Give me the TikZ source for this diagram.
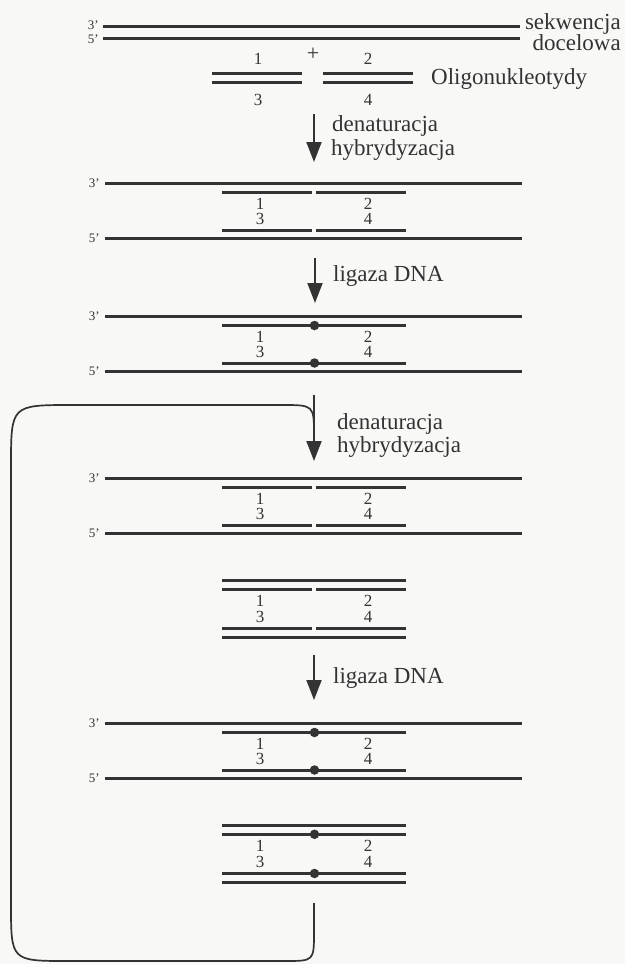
\documentclass[tikz,border=0pt]{standalone}
\usepackage{fontspec}
\setmainfont{Liberation Serif}
\usetikzlibrary{arrows.meta}
\definecolor{ink}{HTML}{333333}
\definecolor{paper}{HTML}{F8F8F7}
\tikzset{
  strand/.style={line width=3pt, draw=ink},
  knot/.style={circle, fill=ink, inner sep=0pt, minimum size=9.5pt},
  endlbl/.style={font=\fontsize{13}{13}\selectfont, text=ink, inner sep=0pt},
  numlbl/.style={font=\fontsize{17}{17}\selectfont, text=ink, inner sep=0pt,
    text height=11pt, text depth=0pt},
  txt/.style={font=\fontsize{23}{24}\selectfont, text=ink, inner sep=0pt},
  flow/.style={draw=ink, line width=1.9pt, -{Triangle[width=15pt,length=20pt]}},
  loopline/.style={draw=ink, line width=1.7pt},
}
% short strand pair: split (two oligos) or joined by a ligation point
\newcommand{\shortstrand}[3]{%
  \ifnum#3=1
    \draw[strand] (222,#2) -- (406,#2);
    \node[knot] (#1) at (314.5,#2) {};
  \else
    \draw[strand] (222,#2) -- (311.5,#2);
    \draw[strand] (316,#2) -- (406,#2);
    \coordinate (#1) at (314,#2);
  \fi}
% numbers of the four oligonucleotides
\newcommand{\oligonums}[3]{%
  \node[numlbl] (#1-n1) at (260,#2) {1};
  \node[numlbl] (#1-n2) at (368,#2) {2};
  \node[numlbl] (#1-n3) at (260,#3) {3};
  \node[numlbl] (#1-n4) at (368,#3) {4};}
% target strands with two oligonucleotides bound to each
\newcommand{\boundpair}[3]{%
  \draw[strand] (105,#2) -- (522,#2);
  \node[endlbl, anchor=east] (#1-e3) at (100,#2) {3’};
  \draw[strand] (105,#2+55.5) -- (522,#2+55.5);
  \node[endlbl, anchor=east] (#1-e5) at (100,#2+55.5) {5’};
  \shortstrand{#1-up}{#2+9.5}{#3}
  \shortstrand{#1-dn}{#2+47}{#3}
  \oligonums{#1}{#2+20.5}{#2+36}}
% free oligonucleotide duplexes
\newcommand{\freepair}[3]{%
  \draw[strand] (222,#2) -- (406,#2);
  \shortstrand{#1-up}{#2+8.6}{#3}
  \oligonums{#1}{#2+20.3}{#2+35.8}
  \shortstrand{#1-dn}{#2+47.8}{#3}
  \draw[strand] (222,#2+57) -- (406,#2+57);}

\begin{document}
\begin{tikzpicture}[x=1pt,y=-1pt]
  \fill[paper] (0,0) rectangle (625,964);
  \useasboundingbox (0,0) rectangle (625,964);

  % target sequence
  \draw[strand] (103,26) -- (520,26);
  \draw[strand] (103,38) -- (520,38);
  \node[endlbl, anchor=east] (t3) at (99,25) {3’};
  \node[endlbl, anchor=east] (t5) at (99,39) {5’};
  \node[txt, anchor=base east] (seq1) at (621,29) {sekwencja};
  \node[txt, anchor=base east] (seq2) at (621,50) {docelowa};

  % oligonucleotides
  \draw[strand] (212,73) -- (302,73);
  \draw[strand] (212,82.5) -- (302,82.5);
  \draw[strand] (323,73) -- (413,73);
  \draw[strand] (323,82.5) -- (413,82.5);
  \node[numlbl] (o1) at (258,59) {1};
  \node[numlbl, font=\fontsize{22}{22}\selectfont] (plus) at (313,55) {+};
  \node[numlbl] (o2) at (368,59) {2};
  \node[numlbl] (o3) at (258,100) {3};
  \node[numlbl] (o4) at (368,100) {4};
  \node[txt, anchor=base west] (oligo) at (431,84) {Oligonukleotydy};

  % step 1
  \coordinate (a1s) at (314,114);
  \coordinate (a1e) at (314,162);
  \draw[flow] (a1s) -- (a1e);
  \node[txt, anchor=base west] (d1) at (332,131) {denaturacja};
  \node[txt, anchor=base west] (h1) at (331,155) {hybrydyzacja};
  \boundpair{s2}{183}{0}

  % step 2
  \coordinate (a2s) at (315,258);
  \coordinate (a2e) at (315,303);
  \draw[flow] (a2s) -- (a2e);
  \node[txt, anchor=base west] (l1) at (333,281) {ligaza DNA};
  \boundpair{s3}{316}{1}

  % step 3 with the cycle return
  \coordinate (a3s) at (314,395);
  \coordinate (a3e) at (314,461);
  \draw[flow] (a3s) -- (a3e);
  \node[txt, anchor=base west] (d2) at (337,429) {denaturacja};
  \node[txt, anchor=base west] (h2) at (337,452) {hybrydyzacja};
  \boundpair{s4}{478}{0}
  \freepair{s5}{580.7}{0}

  % step 4
  \coordinate (a4s) at (314,655);
  \coordinate (a4e) at (314,700);
  \draw[flow] (a4s) -- (a4e);
  \node[txt, anchor=base west] (l2) at (333,683) {ligaza DNA};
  \boundpair{s6}{723}{1}
  \freepair{s7}{825.7}{1}

  % return loop
  \coordinate (r0) at (314,903);
  \coordinate (r1) at (314,436);
  \draw[loopline] (r0) -- (314,932) .. controls (314,961) .. (285,961)
    -- (68,961) .. controls (11,961) .. (11,904)
    -- (11,466) .. controls (11,405) .. (72,405)
    -- (282,405) .. controls (314,405) .. (r1);
\end{tikzpicture}
\end{document}
